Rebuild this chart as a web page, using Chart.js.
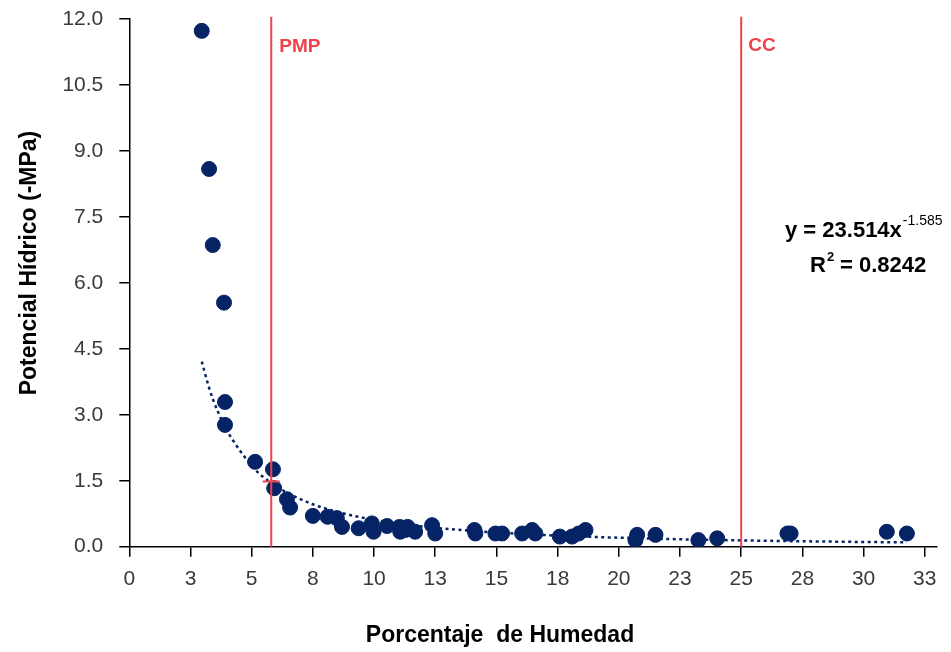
<!DOCTYPE html>
<html lang="es">
<head>
  <meta charset="UTF-8">
  <title>Potencial Hídrico vs Porcentaje de Humedad</title>
  <script src="https://cdn.jsdelivr.net/npm/chart.js"></script>
  <style>
    html, body { margin: 0; padding: 0; background: #fff; }
    #wrap { width: 951px; height: 652px; position: relative; }
  </style>
</head>
<body>
  <div id="wrap"><canvas id="chart" width="951" height="652"></canvas></div>

  <script>
    // Datos
    const humedad = [2.96, 3.26, 3.41, 3.87, 3.91, 3.91, 5.14, 5.87, 5.92, 6.44, 6.57, 7.50, 8.10, 8.48, 8.69, 9.37,
      9.91, 9.98, 10.53, 11.04, 11.07, 11.37, 11.28, 11.68, 12.37, 12.50, 14.10, 14.14, 14.96, 15.23, 16.05, 16.46,
      16.59, 17.59, 18.09, 18.36, 18.64, 20.75, 20.68, 21.50, 23.25, 24.02, 26.89, 27.02, 30.95, 31.77];
    const potencial = [11.73, 8.59, 6.86, 5.55, 3.29, 2.77, 1.93, 1.76, 1.33, 1.08, 0.89, 0.70, 0.68, 0.65, 0.45, 0.42,
      0.53, 0.34, 0.47, 0.45, 0.34, 0.45, 0.38, 0.34, 0.49, 0.30, 0.38, 0.30, 0.30, 0.30, 0.30, 0.38,
      0.30, 0.23, 0.23, 0.30, 0.38, 0.27, 0.15, 0.27, 0.15, 0.19, 0.30, 0.30, 0.34, 0.30];

    // Línea de tendencia potencial (coeficientes del gráfico)
    const coefA = 23.514;
    const coefB = -1.585;
    const r2 = '0.8242';

    // Puntos de referencia
    const pmp = 5.8;
    const cc = 25;
    const yTicks = [0, 1.5, 3, 4.5, 6, 7.5, 9, 10.5, 12];
    const xTicks = [0, 2.5, 5, 7.5, 10, 12.5, 15, 17.5, 20, 22.5, 25, 27.5, 30, 32.5];

    const puntos = humedad.map((x, i) => ({ x: x, y: potencial[i] }));
    const xsOrden = [...new Set(humedad)].sort((a, b) => a - b);
    const tendencia = xsOrden.map(x => ({ x: x, y: coefA * Math.pow(x, coefB) }));

    const FONT = "'Liberation Sans', Arial, sans-serif";
    const ROJO = '#f0414b';
    const AZUL = '#062465';

    // Textos: títulos de ejes, ecuación y etiquetas PMP / CC
    const textos = {
      id: 'textos',
      afterDraw(chart) {
        const ctx = chart.ctx;
        const xs = chart.scales.x;
        ctx.save();
        ctx.fillStyle = '#000';
        ctx.font = 'bold 23px ' + FONT;
        ctx.textAlign = 'center';
        ctx.textBaseline = 'middle';
        ctx.fillText('Porcentaje  de Humedad', 500, 636);

        ctx.save();
        ctx.translate(30, 263);
        ctx.rotate(-Math.PI / 2);
        ctx.fillText('Potencial Hídrico (-MPa)', 0, 0);
        ctx.restore();

        // ecuación
        ctx.textBaseline = 'alphabetic';
        ctx.textAlign = 'left';
        ctx.font = 'bold 22px ' + FONT;
        const t1 = 'y = ' + coefA + 'x';
        ctx.fillText(t1, 785, 237);
        const w1 = ctx.measureText(t1).width;
        ctx.font = '14px ' + FONT;
        ctx.fillText(String(coefB), 785 + w1 + 1, 225);

        ctx.font = 'bold 22px ' + FONT;
        ctx.fillText('R', 810, 272);
        const wr = ctx.measureText('R').width;
        ctx.font = 'bold 13px ' + FONT;
        ctx.fillText('2', 810 + wr + 1, 261);
        ctx.font = 'bold 22px ' + FONT;
        ctx.fillText(' = ' + r2, 810 + wr + 8, 272);

        // etiquetas rojas
        ctx.fillStyle = ROJO;
        ctx.font = 'bold 19px ' + FONT;
        ctx.fillText('PMP', xs.getPixelForValue(pmp) + 8, 52);
        ctx.fillText('CC', xs.getPixelForValue(cc) + 7, 51);
        ctx.restore();
      }
    };

    const ctx = document.getElementById('chart').getContext('2d');
    new Chart(ctx, {
      type: 'scatter',
      data: {
        datasets: [
          {
            label: 'PMP',
            data: [{ x: pmp, y: 0 }, { x: pmp, y: 12.05 }],
            showLine: true,
            borderColor: ROJO,
            borderWidth: 2,
            pointRadius: 0,
            clip: false,
            order: 0
          },
          {
            label: 'PMP marca',
            data: [{ x: pmp - 0.35, y: 1.48 }, { x: pmp + 0.35, y: 1.48 }],
            showLine: true,
            borderColor: ROJO,
            borderWidth: 2,
            pointRadius: 0,
            order: 0
          },
          {
            label: 'CC',
            data: [{ x: cc, y: 0 }, { x: cc, y: 12.05 }],
            showLine: true,
            borderColor: ROJO,
            borderWidth: 2,
            pointRadius: 0,
            clip: false,
            order: 0
          },
          {
            label: 'Potencial Hídrico',
            data: puntos,
            backgroundColor: AZUL,
            borderColor: AZUL,
            pointRadius: 7.5,
            pointHoverRadius: 7.5,
            order: 1
          },
          {
            label: 'Tendencia',
            data: tendencia,
            showLine: true,
            borderColor: AZUL,
            borderWidth: 2.5,
            borderDash: [3, 3.5],
            pointRadius: 0,
            cubicInterpolationMode: 'monotone',
            order: 2
          }
        ]
      },
      options: {
        responsive: false,
        animation: false,
        events: [],
        layout: { padding: { top: 19, right: 14, left: 0, bottom: 0 } },
        plugins: {
          legend: { display: false },
          tooltip: { enabled: false }
        },
        scales: {
          x: {
            type: 'linear',
            min: 0,
            max: 33,
            afterBuildTicks: s => { s.ticks = xTicks.map(v => ({ value: v })); },
            afterFit: s => { s.height = 105.3; s.paddingLeft = 0; s.paddingRight = 0; },
            border: { color: '#000', width: 1.5 },
            grid: { drawOnChartArea: false, drawTicks: true, tickLength: 10, color: '#000', lineWidth: 1.5 },
            ticks: {
              autoSkip: false,
              maxRotation: 0,
              padding: 10,
              color: '#3a3a3a',
              font: { family: FONT, size: 21 },
              callback: v => Math.round(v).toString()
            }
          },
          y: {
            type: 'linear',
            min: 0,
            max: 12,
            afterBuildTicks: s => { s.ticks = yTicks.map(v => ({ value: v })); },
            afterFit: s => { s.width = 129.3; s.paddingTop = 0; s.paddingBottom = 0; },
            border: { color: '#000', width: 1.5 },
            grid: { drawOnChartArea: false, drawTicks: true, tickLength: 10, color: '#000', lineWidth: 1.5 },
            ticks: {
              padding: 16,
              color: '#3a3a3a',
              font: { family: FONT, size: 21 },
              callback: v => Number(v).toFixed(1)
            }
          }
        }
      },
      plugins: [textos]
    });
  </script>
</body>
</html>
